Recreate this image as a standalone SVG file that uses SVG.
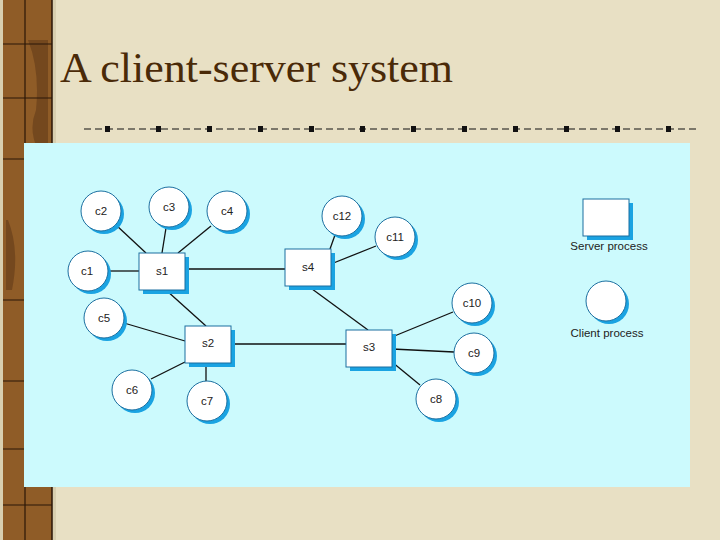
<svg xmlns="http://www.w3.org/2000/svg" width="720" height="540" viewBox="0 0 720 540">
<style>
.cl{fill:#fff;stroke:#1b6fa0;stroke-width:1}
.sh{fill:#1aa3e2}
.lb{font-family:"Liberation Sans",Arial,sans-serif;font-size:11.5px;fill:#222;text-anchor:middle}
.cn{stroke:#111;stroke-width:1.3;fill:none}
.wl{stroke:#2a1608;stroke-width:1.2}
</style>
<defs>
<g id="srv"><rect class="sh" x="4" y="4" width="46" height="37"/><rect class="cl" x="0" y="0" width="46" height="37" stroke-width="1.5"/></g>
<g id="cli"><circle class="sh" cx="3" cy="3" r="20"/><circle class="cl" cx="0" cy="0" r="20" stroke-width="1.2"/></g>
</defs>
<rect width="720" height="540" fill="#e8e0c4"/>
<g id="woodstrip">
<rect x="0" y="0" width="56" height="540" fill="#d8cfb0"/>
<rect x="3" y="0" width="49" height="540" fill="#8f5c27"/>
<path d="M28 40 Q40 70 36 110 Q28 130 38 150 L48 150 L48 40 Z M8 220 Q20 250 12 290 L6 290 L6 220 Z M30 410 Q38 430 30 460 L48 460 L48 410 Z" fill="#5a3415" opacity="0.5"/>
<line class="wl" x1="25" y1="0" x2="25" y2="540"/>
<line class="wl" x1="3" y1="44" x2="52" y2="44"/>
<line class="wl" x1="3" y1="98" x2="52" y2="98"/>
<line class="wl" x1="3" y1="159" x2="52" y2="159"/>
<line class="wl" x1="3" y1="300" x2="52" y2="300"/>
<line class="wl" x1="3" y1="381" x2="52" y2="381"/>
<line class="wl" x1="3" y1="449" x2="52" y2="449"/>
<line class="wl" x1="3" y1="505" x2="52" y2="505"/>
<line x1="52" y1="0" x2="52" y2="540" stroke="#2a1608" stroke-width="1.5"/>
</g>
<text x="60" y="82" font-family="Liberation Serif,'Times New Roman',serif" font-size="43" textLength="393" lengthAdjust="spacingAndGlyphs" fill="#4a2a08">A client-server system</text>
<g id="rule">
<line x1="84" y1="129" x2="700" y2="129" stroke="#111" stroke-width="1" stroke-dasharray="7,4"/>
<g fill="#111">
<rect x="105" y="126" width="5" height="6"/><rect x="156" y="126" width="5" height="6"/><rect x="207" y="126" width="5" height="6"/><rect x="258" y="126" width="5" height="6"/><rect x="309" y="126" width="5" height="6"/><rect x="360" y="126" width="5" height="6"/><rect x="411" y="126" width="5" height="6"/><rect x="462" y="126" width="5" height="6"/><rect x="513" y="126" width="5" height="6"/><rect x="564" y="126" width="5" height="6"/><rect x="615" y="126" width="5" height="6"/><rect x="666" y="126" width="5" height="6"/>
</g>
</g>
<rect x="24" y="143" width="666" height="344" fill="#ccfafd"/>
<g id="connectors">
<line class="cn" x1="116" y1="225" x2="146" y2="253"/>
<line class="cn" x1="166" y1="228" x2="162" y2="253"/>
<line class="cn" x1="211" y1="226" x2="178" y2="253"/>
<line class="cn" x1="108" y1="271" x2="139" y2="271" stroke-width="2"/>
<line class="cn" x1="185" y1="269" x2="285" y2="269" stroke-width="1"/>
<line class="cn" x1="166" y1="290" x2="206" y2="326"/>
<line class="cn" x1="124" y1="323" x2="185" y2="341"/>
<line class="cn" x1="151" y1="379" x2="185" y2="362"/>
<line class="cn" x1="206" y1="362" x2="206" y2="381"/>
<line class="cn" x1="232" y1="344" x2="346" y2="344" stroke-width="2"/>
<line class="cn" x1="308" y1="286" x2="368" y2="330"/>
<line class="cn" x1="335" y1="235" x2="330" y2="249"/>
<line class="cn" x1="376" y1="246" x2="331" y2="264"/>
<line class="cn" x1="453" y1="312" x2="392" y2="337"/>
<line class="cn" x1="454" y1="352" x2="392" y2="349"/>
<line class="cn" x1="420" y1="385" x2="392" y2="362"/>
</g>
<g id="s1"><use href="#srv" x="139" y="253"/><text class="lb" x="162" y="275">s1</text></g>
<g id="s2"><use href="#srv" x="185" y="326"/><text class="lb" x="208" y="347">s2</text></g>
<g id="s3"><use href="#srv" x="346" y="330"/><text class="lb" x="369" y="351">s3</text></g>
<g id="s4"><use href="#srv" x="285" y="249"/><text class="lb" x="308" y="271">s4</text></g>
<g id="c1"><use href="#cli" x="88" y="271"/><text class="lb" x="87" y="275">c1</text></g>
<g id="c2"><use href="#cli" x="101" y="211"/><text class="lb" x="101" y="215">c2</text></g>
<g id="c3"><use href="#cli" x="169" y="207"/><text class="lb" x="169" y="211">c3</text></g>
<g id="c4"><use href="#cli" x="227" y="211"/><text class="lb" x="227" y="215">c4</text></g>
<g id="c5"><use href="#cli" x="104" y="318"/><text class="lb" x="104" y="322">c5</text></g>
<g id="c6"><use href="#cli" x="132" y="390"/><text class="lb" x="132" y="394">c6</text></g>
<g id="c7"><use href="#cli" x="207" y="401"/><text class="lb" x="207" y="405">c7</text></g>
<g id="c8"><use href="#cli" x="436" y="399"/><text class="lb" x="436" y="403">c8</text></g>
<g id="c9"><use href="#cli" x="474" y="353"/><text class="lb" x="474" y="357">c9</text></g>
<g id="c10"><use href="#cli" x="472" y="303"/><text class="lb" x="472" y="307">c10</text></g>
<g id="c11"><use href="#cli" x="395" y="237"/><text class="lb" x="395" y="241">c11</text></g>
<g id="c12"><use href="#cli" x="342" y="216"/><text class="lb" x="342" y="220">c12</text></g>
<g id="legend-server"><use href="#srv" x="583" y="199"/><text class="lb" x="609" y="250">Server process</text></g>
<g id="legend-client"><use href="#cli" x="606" y="301"/><text class="lb" x="607" y="337">Client process</text></g>
</svg>
